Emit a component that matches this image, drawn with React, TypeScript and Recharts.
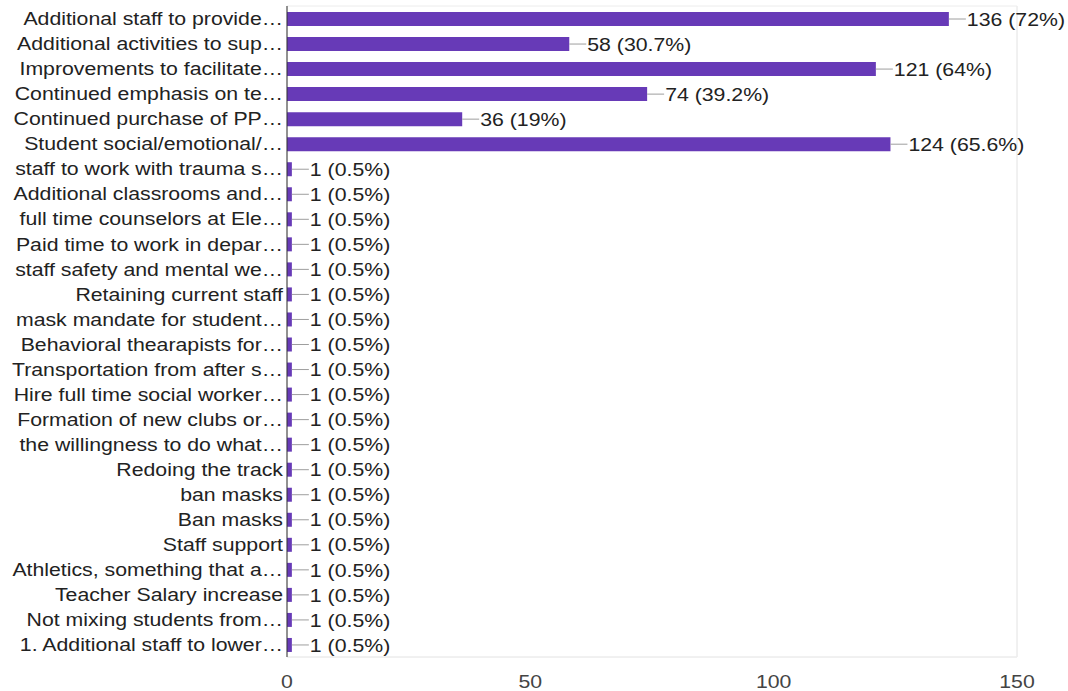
import React from 'react';
import { BarChart, Bar, XAxis, YAxis, CartesianGrid, LabelList, ReferenceArea } from 'recharts';

const categories = [
  'Additional staff to provide…',
  'Additional activities to sup…',
  'Improvements to facilitate…',
  'Continued emphasis on te…',
  'Continued purchase of PP…',
  'Student social/emotional/…',
  'staff to work with trauma s…',
  'Additional classrooms and…',
  'full time counselors at Ele…',
  'Paid time to work in depar…',
  'staff safety and mental we…',
  'Retaining current staff',
  'mask mandate for student…',
  'Behavioral thearapists for…',
  'Transportation from after s…',
  'Hire full time social worker…',
  'Formation of new clubs or…',
  'the willingness to do what…',
  'Redoing the track',
  'ban masks',
  'Ban masks',
  'Staff support',
  'Athletics, something that a…',
  'Teacher Salary increase',
  'Not mixing students from…',
  '1. Additional staff to lower…',
];

const counts = [136, 58, 121, 74, 36, 124, 1, 1, 1, 1, 1, 1, 1, 1, 1, 1, 1, 1, 1, 1, 1, 1, 1, 1, 1, 1];

const percents = [
  '72%', '30.7%', '64%', '39.2%', '19%', '65.6%',
  '0.5%', '0.5%', '0.5%', '0.5%', '0.5%', '0.5%', '0.5%', '0.5%', '0.5%', '0.5%',
  '0.5%', '0.5%', '0.5%', '0.5%', '0.5%', '0.5%', '0.5%', '0.5%', '0.5%', '0.5%',
];

const xTicks = [0, 50, 100, 150];
const gridTicks = [0, 25, 50, 75, 100, 125, 150];

const data = categories.map((name, i) => ({
  name,
  value: counts[i],
  label: `${counts[i]} (${percents[i]})`,
}));

const FONT = '"Liberation Sans", Arial, sans-serif';
const FS = 18.5;
const SX = 1.15;

const StretchText = ({ x, y, anchor, dy, fill, children }: any) => (
  <text
    transform={`translate(${x},${y}) scale(${SX},1)`}
    x={0}
    y={0}
    dy={dy}
    textAnchor={anchor}
    fill={fill}
    fontSize={FS}
    fontFamily={FONT}
  >
    {children}
  </text>
);

const YTick = (props: any) => {
  const { x, y, payload } = props;
  return (
    <StretchText x={x} y={y} anchor="end" dy="0.36em" fill="#222">
      {payload.value}
    </StretchText>
  );
};

const XTick = (props: any) => {
  const { x, y, payload } = props;
  return (
    <StretchText x={x} y={y} anchor="middle" dy="0.71em" fill="#444">
      {payload.value}
    </StretchText>
  );
};

const EndLabel = (props: any) => {
  const { x, y, width, height, value } = props;
  const ex = Number(x) + Number(width);
  const cy = Number(y) + Number(height) / 2;
  return (
    <g>
      <line x1={ex} y1={cy} x2={ex + 17} y2={cy} stroke="#9e9e9e" strokeWidth={1} />
      <StretchText x={ex + 18} y={cy} anchor="start" dy="0.36em" fill="#222">
        {value}
      </StretchText>
    </g>
  );
};

export default function App() {
  return (
    <div style={{ position: 'absolute', left: 0, top: 0, background: '#fff' }}>
      <BarChart
        width={1068}
        height={691}
        data={data}
        layout="vertical"
        margin={{ top: 6, right: 51, bottom: 0, left: 0 }}
      >
        <CartesianGrid xAxisId="grid" horizontal={false} stroke="#ececec" />
        <XAxis
          xAxisId="grid"
          type="number"
          domain={[0, 150]}
          ticks={gridTicks}
          hide
        />
        <XAxis
          type="number"
          domain={[0, 150]}
          ticks={xTicks}
          tickLine={false}
          tickSize={0}
          tickMargin={18}
          axisLine={{ stroke: '#ececec' }}
          height={34}
          tick={<XTick />}
        />
        <YAxis
          type="category"
          dataKey="name"
          width={287}
          tickLine={false}
          tickSize={0}
          tickMargin={4}
          axisLine={{ stroke: '#333' }}
          interval={0}
          tick={<YTick />}
        />
        <ReferenceArea x1={0} x2={150} stroke="#ececec" fill="none" fillOpacity={0} />
        <Bar dataKey="value" fill="#673ab7" barSize={14} isAnimationActive={false}>
          <LabelList dataKey="label" content={EndLabel} />
        </Bar>
      </BarChart>
    </div>
  );
}
